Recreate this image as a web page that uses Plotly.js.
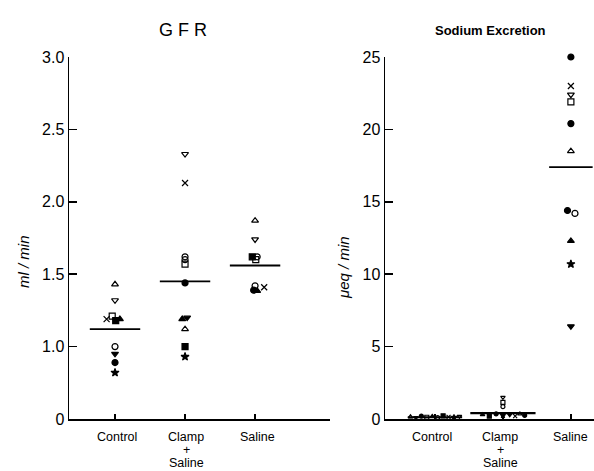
<!DOCTYPE html>
<html><head>
<script src="https://cdn.plot.ly/plotly-3.0.1.min.js"></script>
<style>body{margin:0;background:#fff}</style>
</head><body>
<div id="chart" style="width:594px;height:471px"></div>
<script>
// ---- data ----
const categories = ["Control", "Clamp<br>+<br>Saline", "Saline"];
const gfrControl = [1.43, 1.32, 1.19, 1.21, 1.18, 1.19, 1.00, 0.95, 0.89, 0.82];
const gfrClamp   = [2.33, 2.13, 1.62, 1.60, 1.57, 1.44, 1.19, 1.20, 1.12, 1.00, 0.93];
const gfrSaline  = [1.87, 1.74, 1.62, 1.62, 1.60, 1.42, 1.41, 1.39, 1.385];
const gfrMeans   = [1.12, 1.45, 1.56];
const naControl  = [0.15, 0.10, 0.20, 0.12, 0.18, 0.10, 0.22, 0.15, 0.12, 0.18];
const naClamp    = [1.50, 1.15, 0.85, 0.30, 0.20, 0.35, 0.25, 0.30, 0.20, 0.35, 0.25];
const naSaline   = [25.0, 23.0, 22.4, 21.9, 20.4, 18.5, 14.4, 14.2, 12.3, 10.7, 6.4];
const naMeans    = [0.12, 0.40, 17.4];
const gfrTickVals = [0.5, 1.0, 1.5, 2.0, 2.5, 3.0];
const gfrTickText = ["0", "1.0", "1.5", "2.0", "2.5", "3.0"];
const naTickVals  = [0, 5, 10, 15, 20, 25];
const naTickText  = ["0", "5", "10", "15", "20", "25"];

// ---- styles / horizontal spreading of overlapping symbols ----
const symGfrControl = ['triangle-up-open','triangle-down-open','x-thin-open','square-open','square','triangle-up','circle-open','triangle-down','circle','star'];
const offGfrControl = [0, 0, -0.12, -0.04, 0.01, 0.07, 0, 0, 0, 0];
const symGfrClamp = ['triangle-down-open','x-thin-open','circle-open','circle-open','square-open','circle','triangle-up','triangle-down','triangle-up-open','square','star'];
const offGfrClamp = [0, 0, 0, 0, 0, 0, -0.04, 0.03, 0, 0, 0];
const symGfrSaline = ['triangle-up-open','triangle-down-open','square','circle-open','square-open','circle-open','x-thin-open','circle','triangle-up'];
const offGfrSaline = [0, 0, -0.04, 0.03, 0.01, 0, 0.13, -0.02, 0.03];
const symNaControl = ['triangle-up-open','triangle-down','circle','square-open','triangle-up','circle-open','square','x-thin-open','star','triangle-down-open'];
const offNaControl = [-0.36, -0.28, -0.2, -0.12, -0.04, 0.04, 0.12, 0.2, 0.28, 0.36];
const symNaClamp = ['triangle-down-open','square-open','circle-open','triangle-up','square','circle','star','triangle-down','x-thin-open','triangle-up-open','circle'];
const offNaClamp = [0, 0, 0, -0.3, -0.2, -0.1, 0.0, 0.1, 0.18, 0.25, 0.32];
const symNaSaline = ['circle','x-thin-open','triangle-down-open','square-open','circle','triangle-up-open','circle','circle-open','triangle-up','star','triangle-down'];
const offNaSaline = [0, 0, 0, 0, 0, 0, -0.05, 0.06, 0, 0, 0];

const W = 594, H = 471;
const px = v => v / W, py = v => (H - v) / H;
const font = "Liberation Sans, Arial, sans-serif";

function pts(values, idx, offs, syms, size, xa, ya) {
  return {
    type: 'scatter', mode: 'markers', xaxis: xa, yaxis: ya, showlegend: false, hoverinfo: 'skip', cliponaxis: false,
    x: values.map((v, i) => idx + offs[i]), y: values,
    marker: {symbol: syms, size: size, color: '#000', line: {color: '#000', width: 1.2}}
  };
}
function meanLine(m, idx, half, xa, ya, w) {
  return {type: 'scatter', mode: 'lines', xaxis: xa, yaxis: ya, showlegend: false, hoverinfo: 'skip', cliponaxis: false,
    x: [idx - half, idx + half], y: [m, m], line: {color: '#000', width: w}};
}

const traces = [
  pts(gfrControl, 1, offGfrControl, symGfrControl, 6, 'x', 'y'),
  pts(gfrClamp, 2, offGfrClamp, symGfrClamp, 6, 'x', 'y'),
  pts(gfrSaline, 3, offGfrSaline, symGfrSaline, 6, 'x', 'y'),
  ...gfrMeans.map((m, i) => meanLine(m, i + 1, 0.36, 'x', 'y', 1.8)),
  pts(naControl, 1, offNaControl, symNaControl, 4, 'x2', 'y2'),
  pts(naClamp, 2, offNaClamp, symNaClamp, 4, 'x2', 'y2'),
  pts(naSaline, 3, offNaSaline, symNaSaline, 6, 'x2', 'y2'),
  meanLine(naMeans[0], 1, 0.4, 'x2', 'y2', 1.8),
  meanLine(naMeans[1], 2, 0.48, 'x2', 'y2', 2.2),
  meanLine(naMeans[2], 3, 0.32, 'x2', 'y2', 1.8),
];

const axX = {showgrid: false, zeroline: false, showline: true, linecolor: '#000', linewidth: 1.5,
  ticks: 'inside', ticklen: 5, tickwidth: 1.5, tickcolor: '#000', tickvals: [1, 2, 3],
  showticklabels: false, fixedrange: true};
const axY = {showgrid: false, zeroline: false, showline: true, linecolor: '#000', linewidth: 1.5,
  ticks: 'inside', ticklen: 8, tickwidth: 1.5, tickcolor: '#000',
  tickfont: {family: font, size: 16, color: '#000'}, fixedrange: true};

// category labels as annotations (one per line for tight line spacing)
const catAnn = [];
const catX = [[px(117), px(186), px(257)], [px(432), px(500), px(570)]];
catX.forEach(xs => {
  categories.forEach((c, i) => {
    c.split('<br>').forEach((line, j) => {
      catAnn.push({xref: 'paper', yref: 'paper', x: xs[i], y: py(437 + 13 * j), xanchor: 'center', yanchor: 'middle',
        text: line, showarrow: false, font: {family: font, size: 12.5, color: '#000'}});
    });
  });
});

const layout = {
  width: W, height: H, margin: {l: 0, r: 0, t: 0, b: 0}, paper_bgcolor: '#fff', plot_bgcolor: 'rgba(0,0,0,0)',
  xaxis: Object.assign({}, axX, {domain: [px(69), px(330)], range: [0.343, 4.07], anchor: 'y'}),
  yaxis: Object.assign({}, axY, {domain: [py(419), py(57)], range: [0.5, 3.0], anchor: 'x',
    tickvals: gfrTickVals, ticktext: gfrTickText}),
  xaxis2: Object.assign({}, axX, {domain: [px(385), 1], range: [0.265, 3.34], anchor: 'y2'}),
  yaxis2: Object.assign({}, axY, {domain: [py(419), py(57)], range: [0, 25], anchor: 'x2',
    tickvals: naTickVals, ticktext: naTickText}),
  annotations: [
    {xref: 'paper', yref: 'paper', x: px(183), y: py(30), xanchor: 'center', yanchor: 'middle', text: 'G F R', showarrow: false,
      font: {family: font, size: 18, color: '#000'}},
    {xref: 'paper', yref: 'paper', x: px(490), y: py(31), xanchor: 'center', yanchor: 'middle', text: '<b>Sodium Excretion</b>', showarrow: false,
      font: {family: font, size: 13, color: '#000'}},
    {xref: 'paper', yref: 'paper', x: px(23), y: py(262), xanchor: 'center', yanchor: 'middle', text: '<i>ml / min</i>', showarrow: false, textangle: -90,
      font: {family: font, size: 15, color: '#000'}},
    {xref: 'paper', yref: 'paper', x: px(343), y: py(268), xanchor: 'center', yanchor: 'middle', text: '<i>μeq / min</i>', showarrow: false, textangle: -90,
      font: {family: font, size: 15, color: '#000'}},
    ...catAnn
  ]
};

Plotly.newPlot('chart', traces, layout, {staticPlot: true, displayModeBar: false});
</script>
</body></html>
